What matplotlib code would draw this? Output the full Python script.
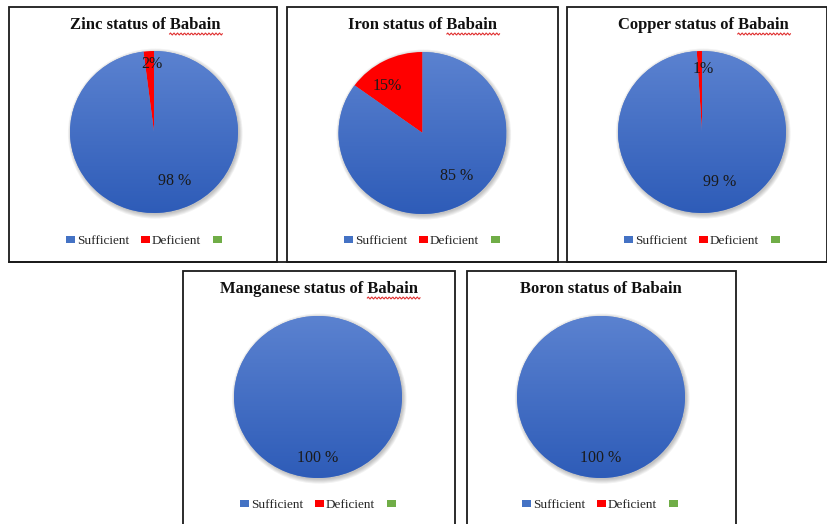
import matplotlib
matplotlib.use("Agg")
import matplotlib.pyplot as plt
import numpy as np
from matplotlib.patches import Rectangle, Patch, Ellipse
from matplotlib.lines import Line2D
from matplotlib.colors import LinearSegmentedColormap
from matplotlib.transforms import IdentityTransform

plt.rcParams['font.family'] = ['Liberation Serif', 'DejaVu Serif']

titles = ["Zinc status of Babain", "Iron status of Babain", "Copper status of Babain",
          "Manganese status of Babain", "Boron status of Babain"]
sufficient = [98, 85, 99, 100, 100]
deficient = [2, 15, 1, 0, 0]
legend_labels = ["Sufficient", "Deficient", ""]

# layout (pixels of an 828x524 canvas)
W, H = 828, 524
panels = [(9, 7, 277, 262), (287, 7, 558, 262), (567, 7, 827, 262),
          (183, 271, 455, 530), (467, 271, 736, 530)]
centers = [(154, 132), (422.5, 133), (702, 132), (318, 397), (601, 397)]
text_x = [145, 423, 703, 319, 601]
rx, ry = 84, 81
suff_pos = [(0.24, -0.60), (0.41, -0.53), (0.21, -0.62), (0.0, -0.75), (0.0, -0.75)]
def_pos = [(-0.02, 0.84), (-0.42, 0.58), (0.02, 0.78), None, None]
squiggle = [True, True, True, True, False]

blue_top, blue_bot = "#5b82d0", "#2e5cb8"
blue = "#4472c4"
red = "#ff0000"
green = "#70ad47"
cmap = LinearSegmentedColormap.from_list("blu", [blue_bot, blue_top])

fig = plt.figure(figsize=(W / 100, H / 100), dpi=100)


def fx(x):
    return x / W


def fy(y):
    return 1 - y / H


# panel frames
for (l, t, r, b) in panels:
    fig.add_artist(Rectangle((fx(l), fy(b)), fx(r - l), (b - t) / H, transform=fig.transFigure,
                             fill=False, edgecolor="#1a1a1a", linewidth=1.3))
fig.add_artist(Line2D([fx(9), fx(828)], [fy(262), fy(262)], transform=fig.transFigure,
                      color="#1a1a1a", linewidth=1.3))

grad = np.linspace(0, 1, 256).reshape(-1, 1)
title_texts = []
for i in range(len(titles)):
    cx, cy = centers[i]
    l, t, r, b = panels[i]
    ax = fig.add_axes([fx(cx - rx), fy(cy + ry), 2 * rx / W, 2 * ry / H])

    # soft shadow
    for k in range(5):
        ax.add_patch(Ellipse((0.015, -0.02), 2.0 + 0.02 * k, 2.0 + 0.025 * k, facecolor="#000000",
                             alpha=0.05, linewidth=0, clip_on=False, zorder=0))

    wedges, _ = ax.pie([sufficient[i], deficient[i]], colors=[blue_top, red], startangle=90,
                       counterclock=False, radius=1, wedgeprops=dict(linewidth=0))
    im = ax.imshow(grad, extent=[-1, 1, -1, 1], cmap=cmap, origin="lower", aspect="auto",
                   zorder=wedges[0].get_zorder())
    im.set_clip_path(wedges[0])
    ax.set_xlim(-1, 1)
    ax.set_ylim(-1, 1)
    ax.set_aspect("auto")
    ax.axis("off")

    ax.text(*suff_pos[i], f"{sufficient[i]} %", ha="center", va="center", fontsize=11.5,
            color="#1a1a1a", zorder=5)
    if deficient[i] > 0:
        ax.text(*def_pos[i], f"{deficient[i]}%", ha="center", va="center", fontsize=11.5,
                color="#1a1a1a", zorder=5)

    tt = fig.text(fx(text_x[i]), fy(t + 18), titles[i], ha="center", va="center", fontsize=12,
                  fontweight="bold", color="#111111")
    title_texts.append(tt)

    handles = [Patch(facecolor=blue), Patch(facecolor=red), Patch(facecolor=green)]
    fig.legend(handles, legend_labels, loc="center", bbox_to_anchor=(fx(text_x[i]), fy(t + 234)),
               ncol=3, frameon=False, fontsize=9.5, handlelength=0.7, handleheight=0.5,
               handletextpad=0.15, columnspacing=0.9, labelcolor="#262626")

# red spell-check squiggle under "Babain"
fig.canvas.draw()
renderer = fig.canvas.get_renderer()
for i, tt in enumerate(title_texts):
    if not squiggle[i]:
        continue
    bb = tt.get_window_extent(renderer)
    tmp = fig.text(0, 0, "Babain", fontsize=12, fontweight="bold")
    wb = tmp.get_window_extent(renderer).width
    tmp.remove()
    xs = np.linspace(bb.x1 - wb, bb.x1 + 2, 60)
    ys = bb.y0 - 1.0 + 1.0 * np.sin((xs - xs[0]) * 2 * np.pi / 3.5)
    fig.add_artist(Line2D(xs, ys, transform=IdentityTransform(), color="#e03030", linewidth=0.8))

fig.savefig("out.png", dpi=100)
